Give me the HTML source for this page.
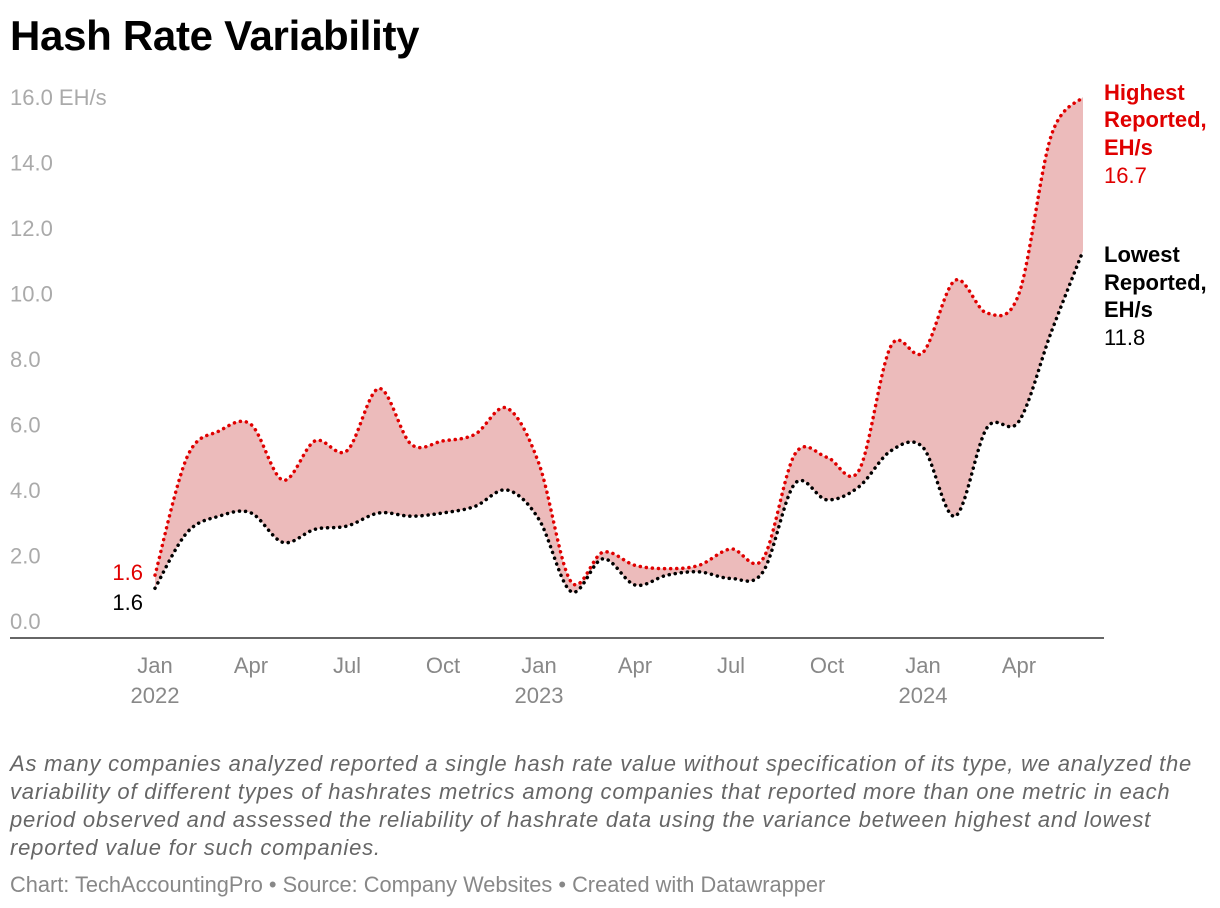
<!DOCTYPE html>
<html><head><meta charset="utf-8"><style>
body{margin:0;background:#fff;font-family:"Liberation Sans",sans-serif;}
#wrap{position:relative;width:1220px;height:908px;overflow:hidden;}
h1{position:absolute;left:10px;top:12px;margin:0;font-size:42px;font-weight:bold;color:#000;letter-spacing:-0.3px}
.note{position:absolute;left:10px;top:750px;width:1198px;font-size:22px;letter-spacing:0.8px;font-style:italic;color:#666;line-height:28px}
.foot{position:absolute;left:10px;top:872px;font-size:21.8px;color:#888}
</style></head><body>
<div id="wrap">
<h1>Hash Rate Variability</h1>
<svg id="svg" width="1220" height="740" style="position:absolute;left:0;top:0"></svg>
<div class="note">As many companies analyzed reported a single hash rate value without specification of its type, we analyzed the variability of different types of hashrates metrics among companies that reported more than one metric in each period observed and assessed the reliability of hashrate data using the variance between highest and lowest reported value for such companies.</div>
<div class="foot">Chart: TechAccountingPro • Source: Company Websites • Created with Datawrapper</div>
</div>
<script>
const highValues=[1.4,5.0,5.8,6.0,4.3,5.5,5.2,7.1,5.4,5.5,5.7,6.5,4.8,1.2,2.1,1.7,1.6,1.7,2.2,1.9,5.1,5.0,4.6,8.4,8.2,10.4,9.4,10.0,14.8,16.0];
const lowValues=[1.0,2.7,3.2,3.3,2.4,2.8,2.9,3.3,3.2,3.3,3.5,4.0,3.1,0.9,1.9,1.1,1.4,1.5,1.3,1.5,4.2,3.7,4.1,5.2,5.3,3.2,5.9,6.1,8.8,11.3];
const yTicks=[0,2,4,6,8,10,12,14,16];
const xTickMonths=[0,3,6,9,12,15,18,21,24,27];
const xTickLabels=["Jan","Apr","Jul","Oct","Jan","Apr","Jul","Oct","Jan","Apr"];
const yearLabels=[["2022",0],["2023",12],["2024",24]];
const svg=document.getElementById('svg');const NS="http://www.w3.org/2000/svg";
const x=i=>155+i*32;const y=v=>621-v*32.75;
function el(t,a,txt){const e=document.createElementNS(NS,t);for(const k in a)e.setAttribute(k,a[k]);if(txt!=null)e.textContent=txt;svg.appendChild(e);return e;}
function curve(p){let d="";
for(let i=0;i<p.length-1;i++){const p0=p[i-1]||p[i],p1=p[i],p2=p[i+1],p3=p[i+2]||p2;const t=6;
d+=" C"+(p1[0]+(p2[0]-p0[0])/t)+","+(p1[1]+(p2[1]-p0[1])/t)+" "+(p2[0]-(p3[0]-p1[0])/t)+","+(p2[1]-(p3[1]-p1[1])/t)+" "+p2[0]+","+p2[1];}return d;}
function path(vals){const p=vals.map((v,i)=>[x(i),y(v)]);return "M"+p[0][0]+","+p[0][1]+curve(p);}
yTicks.forEach(v=>{const t=el('text',{x:10,y:y(v)+8,'font-size':22,fill:'#aaa'},v.toFixed(1)+(v===16?" EH/s":""));
});
const hp=path(highValues),lp=path(lowValues);
const pr=lowValues.map((v,i)=>[x(i),y(v)]).reverse();
const d2=" L"+pr[0][0]+","+pr[0][1]+curve(pr);
const band=el('path',{d:hp+d2+"Z",fill:'#ecbbbb'});

const hl=el('path',{d:hp,fill:'none',stroke:'#e00000','stroke-width':3.5,'stroke-dasharray':'0.1 6','stroke-linecap':'round'});

const ll=el('path',{d:lp,fill:'none',stroke:'#000','stroke-width':3.5,'stroke-dasharray':'0.1 6','stroke-linecap':'round'});

const ax=el('line',{x1:10,x2:1104,y1:638,y2:638,stroke:'#333','stroke-width':1.5});

xTickMonths.forEach((m,i)=>{const t=el('text',{x:x(m),y:673,'font-size':22,fill:'#888','text-anchor':'middle'},xTickLabels[i]);
});
yearLabels.forEach(([l,m])=>{const t=el('text',{x:x(m),y:703,'font-size':22,fill:'#888','text-anchor':'middle'},l);
});
const a=el('text',{x:143,y:580,'font-size':22,fill:'#e00000','text-anchor':'end'},"1.6");
const b=el('text',{x:143,y:610,'font-size':22,fill:'#000','text-anchor':'end'},"1.6");
[["Highest",100,'bold'],["Reported,",127,'bold'],["EH/s",155,'bold'],["16.7",183,'normal']].forEach(([s,yy,w])=>{const t=el('text',{x:1104,y:yy,'font-size':22,fill:'#e00000','font-weight':w},s);});
[["Lowest",262,'bold'],["Reported,",290,'bold'],["EH/s",317,'bold'],["11.8",345,'normal']].forEach(([s,yy,w])=>{const t=el('text',{x:1104,y:yy,'font-size':22,fill:'#000','font-weight':w},s);});
</script>
</body></html>
